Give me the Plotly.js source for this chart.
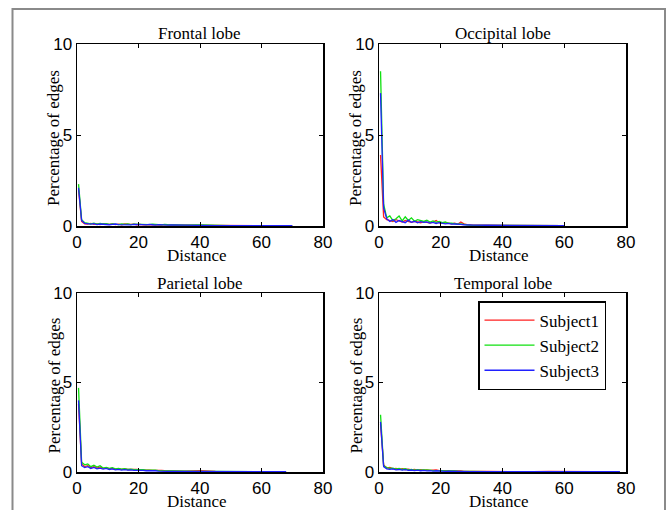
<!DOCTYPE html>
<html>
<head>
<meta charset="utf-8">
<script src="https://cdn.plot.ly/plotly-3.0.1.min.js"></script>
<style>html,body{margin:0;padding:0;background:#fff;}#chart{width:668px;height:510px;}</style>
</head>
<body>
<div id="chart"></div>
<script>
// ---------- DATA ----------
var subjects = ["Subject1", "Subject2", "Subject3"];
var panelTitles = ["Frontal lobe", "Occipital lobe", "Parietal lobe", "Temporal lobe"];
var xTicks = [0, 20, 40, 60, 80];
var yTicks = [0, 5, 10];

var distBase = [0.5,1.5,2.5,3.5,4.5,5.5,6.5,7.5,8.5,9.5,10.5,11.5,12.5,13.5,14.5,15.5,16.5,17.5,18.5,19.5,20.5,21.5,22.5,23.5,24.5,25.5,26.5,27.5,28.5,29.5,30.5];

var frontalDist = distBase.concat([35,40,45,50,55,60,65,70]);
var frontalS1 = [2.0,0.25,0.12,0.10,0.14,0.09,0.12,0.08,0.13,0.10,0.09,0.12,0.08,0.10,0.07,0.11,0.08,0.09,0.10,0.07,0.09,0.06,0.08,0.07,0.09,0.06,0.07,0.05,0.08,0.06,0.05,0.04,0.04,0.03,0.05,0.02,0.02,0.02,0.01];
var frontalS2 = [2.3,0.35,0.18,0.15,0.12,0.16,0.10,0.14,0.11,0.13,0.09,0.12,0.10,0.08,0.11,0.09,0.12,0.08,0.10,0.09,0.11,0.07,0.09,0.08,0.10,0.07,0.08,0.06,0.09,0.07,0.06,0.05,0.06,0.03,0.02,0.02,0.01,0.01,0.01];
var frontalS3 = [2.1,0.30,0.15,0.11,0.10,0.13,0.08,0.11,0.09,0.10,0.07,0.09,0.11,0.08,0.07,0.10,0.08,0.06,0.09,0.10,0.07,0.08,0.06,0.09,0.07,0.05,0.08,0.06,0.07,0.05,0.06,0.04,0.05,0.02,0.02,0.02,0.02,0.02,0.02];

var occipitalDist = distBase.concat([35,40,45,50,55,60]);
var occipitalS1 = [3.9,0.5,0.35,0.3,0.25,0.35,0.28,0.22,0.30,0.25,0.20,0.26,0.22,0.18,0.24,0.20,0.16,0.22,0.30,0.18,0.15,0.18,0.14,0.12,0.15,0.10,0.22,0.12,0.08,0.06,0.05,0.04,0.03,0.03,0.02,0.02,0.02];
var occipitalS2 = [8.5,1.2,0.45,0.55,0.30,0.40,0.55,0.28,0.50,0.30,0.45,0.26,0.35,0.30,0.25,0.32,0.22,0.28,0.20,0.25,0.18,0.22,0.15,0.16,0.12,0.10,0.12,0.08,0.06,0.05,0.04,0.03,0.03,0.02,0.02,0.02,0.02];
var occipitalS3 = [7.3,1.0,0.40,0.25,0.35,0.20,0.30,0.22,0.18,0.32,0.20,0.26,0.18,0.24,0.20,0.22,0.16,0.20,0.14,0.18,0.15,0.12,0.14,0.10,0.11,0.08,0.09,0.07,0.06,0.05,0.05,0.04,0.03,0.03,0.02,0.02,0.02];

var parietalDist = distBase.concat([35,40,45,50,55,60,65,68]);
var parietalS1 = [3.8,0.45,0.30,0.35,0.25,0.30,0.22,0.28,0.20,0.24,0.18,0.20,0.16,0.19,0.15,0.17,0.14,0.15,0.12,0.14,0.11,0.12,0.10,0.11,0.09,0.10,0.08,0.09,0.07,0.06,0.06,0.05,0.08,0.03,0.02,0.02,0.02,0.01,0.01];
var parietalS2 = [4.7,0.55,0.40,0.45,0.30,0.38,0.28,0.35,0.22,0.26,0.20,0.24,0.18,0.20,0.16,0.18,0.14,0.16,0.13,0.14,0.12,0.13,0.10,0.11,0.09,0.10,0.08,0.08,0.07,0.07,0.06,0.05,0.04,0.03,0.02,0.02,0.02,0.01,0.01];
var parietalS3 = [4.0,0.35,0.25,0.30,0.20,0.26,0.18,0.22,0.16,0.20,0.14,0.17,0.12,0.15,0.11,0.13,0.10,0.12,0.09,0.10,0.08,0.09,0.07,0.08,0.06,0.07,0.05,0.06,0.05,0.04,0.04,0.04,0.03,0.03,0.02,0.02,0.02,0.02,0.02];

var temporalDist = distBase.concat([35,40,45,50,55,60,65,70,75,78]);
var temporalS1 = [2.7,0.40,0.22,0.25,0.18,0.20,0.15,0.18,0.14,0.16,0.12,0.14,0.11,0.13,0.10,0.12,0.09,0.10,0.12,0.08,0.09,0.07,0.08,0.06,0.07,0.05,0.06,0.04,0.05,0.04,0.03,0.03,0.02,0.02,0.02,0.04,0.02,0.04,0.02,0.02,0.01];
var temporalS2 = [3.2,0.35,0.25,0.20,0.22,0.16,0.20,0.14,0.18,0.12,0.15,0.11,0.13,0.10,0.12,0.09,0.10,0.08,0.09,0.07,0.08,0.06,0.07,0.05,0.06,0.05,0.04,0.04,0.03,0.03,0.03,0.02,0.02,0.02,0.02,0.02,0.03,0.02,0.02,0.02,0.01];
var temporalS3 = [2.8,0.30,0.18,0.15,0.17,0.12,0.14,0.10,0.13,0.09,0.11,0.08,0.10,0.07,0.09,0.06,0.08,0.05,0.07,0.05,0.06,0.04,0.05,0.04,0.04,0.03,0.05,0.03,0.03,0.02,0.02,0.02,0.02,0.02,0.02,0.02,0.02,0.02,0.02,0.02,0.02];

// ---------- BUILD ----------
var W = 668, H = 510;
var colors = ["#ff2020", "#10e010", "#2020ff"];
var panels = [
  {dist: frontalDist, ys: [frontalS1, frontalS2, frontalS3]},
  {dist: occipitalDist, ys: [occipitalS1, occipitalS2, occipitalS3]},
  {dist: parietalDist, ys: [parietalS1, parietalS2, parietalS3]},
  {dist: temporalDist, ys: [temporalS1, temporalS2, temporalS3]}
];
// pixel boxes [left, right, top, bottom]
var boxes = [[77, 323, 44, 226], [379, 626, 44, 226], [77, 323, 293, 472], [379, 626, 293, 472]];

var traces = [];
panels.forEach(function (p, i) {
  var sfx = i === 0 ? "" : String(i + 1);
  p.ys.forEach(function (y, k) {
    traces.push({
      type: "scatter", mode: "lines",
      x: p.dist, y: y,
      xaxis: "x" + sfx, yaxis: "y" + sfx,
      name: subjects[k],
      line: {color: colors[k], width: 1.3},
      showlegend: i === 3
    });
  });
});

var serif = "Liberation Serif, Times New Roman, serif";
var sans = "Liberation Sans, Arial, sans-serif";
var layout = {
  width: W, height: H,
  margin: {l: 0, r: 0, t: 0, b: 0},
  paper_bgcolor: "#fff", plot_bgcolor: "#fff",
  showlegend: true,
  legend: {
    x: 478 / W, y: 1 - 301 / H, xanchor: "left", yanchor: "top",
    bgcolor: "#fff", bordercolor: "#000", borderwidth: 1.5,
    font: {family: serif, size: 17, color: "#000"},
    itemwidth: 50, tracegroupgap: 0
  },
  annotations: [],
  shapes: [{
    type: "rect", xref: "paper", yref: "paper",
    x0: 12.5 / W, x1: 665 / W, y0: -0.05, y1: 1 - 9 / H,
    line: {color: "#8a8a8a", width: 2}, fillcolor: "rgba(0,0,0,0)", layer: "below"
  }]
};

boxes.forEach(function (b, i) {
  var sfx = i === 0 ? "" : String(i + 1);
  var common = {
    showline: true, linecolor: "#000", linewidth: 1.5, mirror: "ticks",
    ticks: "inside", ticklen: 4, tickcolor: "#000", tickwidth: 1,
    showgrid: false, zeroline: false, fixedrange: true,
    tickfont: {family: sans, size: 17, color: "#000"}
  };
  layout["xaxis" + sfx] = Object.assign({}, common, {
    domain: [b[0] / W, b[1] / W], range: [0, 80],
    tickvals: xTicks, ticktext: xTicks.map(String),
    anchor: "y" + sfx
  });
  layout["yaxis" + sfx] = Object.assign({}, common, {
    domain: [1 - b[3] / H, 1 - b[2] / H], range: [0, 10],
    tickvals: yTicks, ticktext: yTicks.map(String),
    anchor: "x" + sfx
  });
  var cx = (b[0] + b[1]) / 2;
  // panel title
  layout.annotations.push({
    xref: "paper", yref: "paper", x: cx / W, y: 1 - (b[2] - 10) / H,
    xanchor: "center", yanchor: "middle", showarrow: false,
    text: panelTitles[i], font: {family: serif, size: 17, color: "#000"}
  });
  // x title
  layout.annotations.push({
    xref: "paper", yref: "paper", x: (cx - 4) / W, y: 1 - (b[3] + 29) / H,
    xanchor: "center", yanchor: "middle", showarrow: false,
    text: "Distance", font: {family: serif, size: 17, color: "#000"}
  });
  // y title
  layout.annotations.push({
    xref: "paper", yref: "paper", x: (b[0] - 23) / W, y: 1 - ((b[2] + b[3]) / 2 + 3) / H,
    xanchor: "center", yanchor: "middle", showarrow: false, textangle: -90,
    text: "Percentage of edges", font: {family: serif, size: 17, color: "#000"}
  });
});

Plotly.newPlot("chart", traces, layout, {displayModeBar: false, staticPlot: true});
</script>
</body>
</html>
